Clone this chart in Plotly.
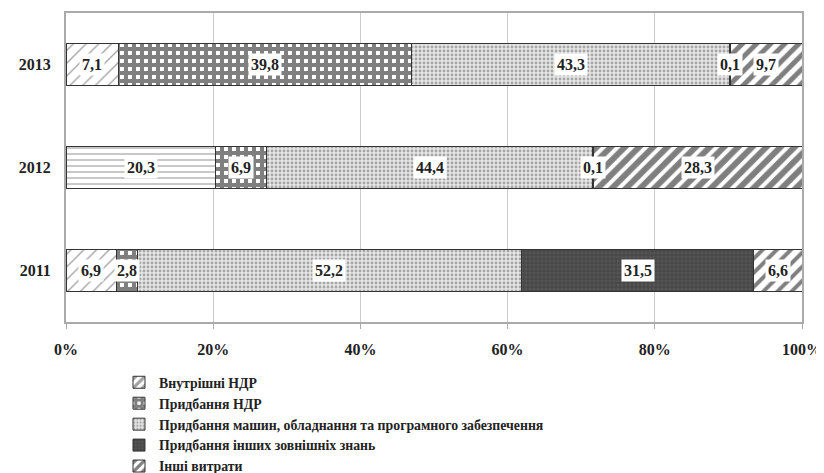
import plotly.graph_objects as go

years = ["2011", "2012", "2013"]
series_names = [
    "Внутрішні НДР",
    "Придбання НДР",
    "Придбання машин, обладнання та програмного забезпечення",
    "Придбання інших зовнішніх знань",
    "Інші витрати",
]
vals_internal = [6.9, 20.3, 7.1]
vals_rnd = [2.8, 6.9, 39.8]
vals_machines = [52.2, 44.4, 43.3]
vals_knowledge = [31.5, 0.1, 0.1]
vals_other = [6.6, 28.3, 9.7]
x_ticks = [0, 20, 40, 60, 80, 100]
x_tick_labels = ["0%", "20%", "40%", "60%", "80%", "100%"]

all_vals = [vals_internal, vals_rnd, vals_machines, vals_knowledge, vals_other]

patterns = [
    dict(shape=["/", "-", "/"], fgcolor="#444444", bgcolor="white", size=[9, 6, 9], solidity=[0.15, 0.2, 0.15]),
    dict(shape="+", fgcolor="#000000", bgcolor="white", size=8, solidity=0.75),
    dict(shape=".", fgcolor="#666666", bgcolor="#e6e6e6", size=4, solidity=0.4),
    dict(shape="+", fgcolor="#222222", bgcolor="#555555", size=4, solidity=0.3),
    dict(shape="/", fgcolor="#000000", bgcolor="white", size=[10, 10, 10], solidity=[0.4, 0.6, 0.5]),
]

FONT = "Liberation Serif"
fig = go.Figure()
for name, vals, pat in zip(series_names, all_vals, patterns):
    fig.add_trace(go.Bar(
        y=years, x=vals, name="<b>" + name + "</b>", orientation="h",
        marker=dict(color="white", pattern=pat, line=dict(color="#333333", width=1)),
        hoverinfo="skip",
    ))

annotations = []
for i, yr in enumerate(years):
    cum = 0.0
    for vals in all_vals:
        v = vals[i]
        annotations.append(dict(
            x=cum + v / 2, y=i, xref="x", yref="y",
            text="<b>" + ("%.1f" % v).replace(".", ",") + "</b>", showarrow=False,
            font=dict(family=FONT, size=16, color="#222222"),
            bgcolor="white", borderpad=2,
        ))
        cum += v

# page body has an 8px margin, so figure is 816x465 placed at (8,8)
fig.update_layout(
    barmode="stack", bargap=0.59,
    width=816, height=465,
    margin=dict(l=58, r=22, t=5, b=151, autoexpand=False),
    plot_bgcolor="white", paper_bgcolor="white",
    font=dict(family=FONT, size=14, color="#222222"),
    annotations=annotations,
    showlegend=True,
    legend=dict(
        x=0.072, y=-0.145,
        xanchor="left", yanchor="top", traceorder="normal",
        font=dict(family=FONT, size=13.8, color="#222222"),
        tracegroupgap=0, itemwidth=30, bgcolor="rgba(0,0,0,0)",
    ),
    xaxis=dict(
        type="linear",
        range=[0, 100], tickvals=x_ticks, ticktext=["<b>%s</b>" % t for t in x_tick_labels],
        showgrid=True, gridcolor="#cccccc", gridwidth=1,
        showline=True, linecolor="#aaaaaa", linewidth=2, mirror=True,
        ticks="outside", ticklen=12, tickcolor="rgba(0,0,0,0)",
        minor=dict(tickvals=x_ticks, ticks="outside", ticklen=5, tickcolor="#aaaaaa", showgrid=False),
        tickfont=dict(family=FONT, size=16, color="#222222"),
        zeroline=False, fixedrange=True, automargin=False,
    ),
    yaxis=dict(
        type="category",
        categoryorder="array", categoryarray=years,
        tickvals=years, ticktext=["<b>%s</b>" % y for y in years],
        showline=True, linecolor="#aaaaaa", linewidth=2, mirror=True,
        ticks="outside", ticklen=10, tickcolor="rgba(0,0,0,0)",
        tickfont=dict(family=FONT, size=16, color="#222222"),
        fixedrange=True, automargin=False,
    ),
)

fig.write_html("out.html")
